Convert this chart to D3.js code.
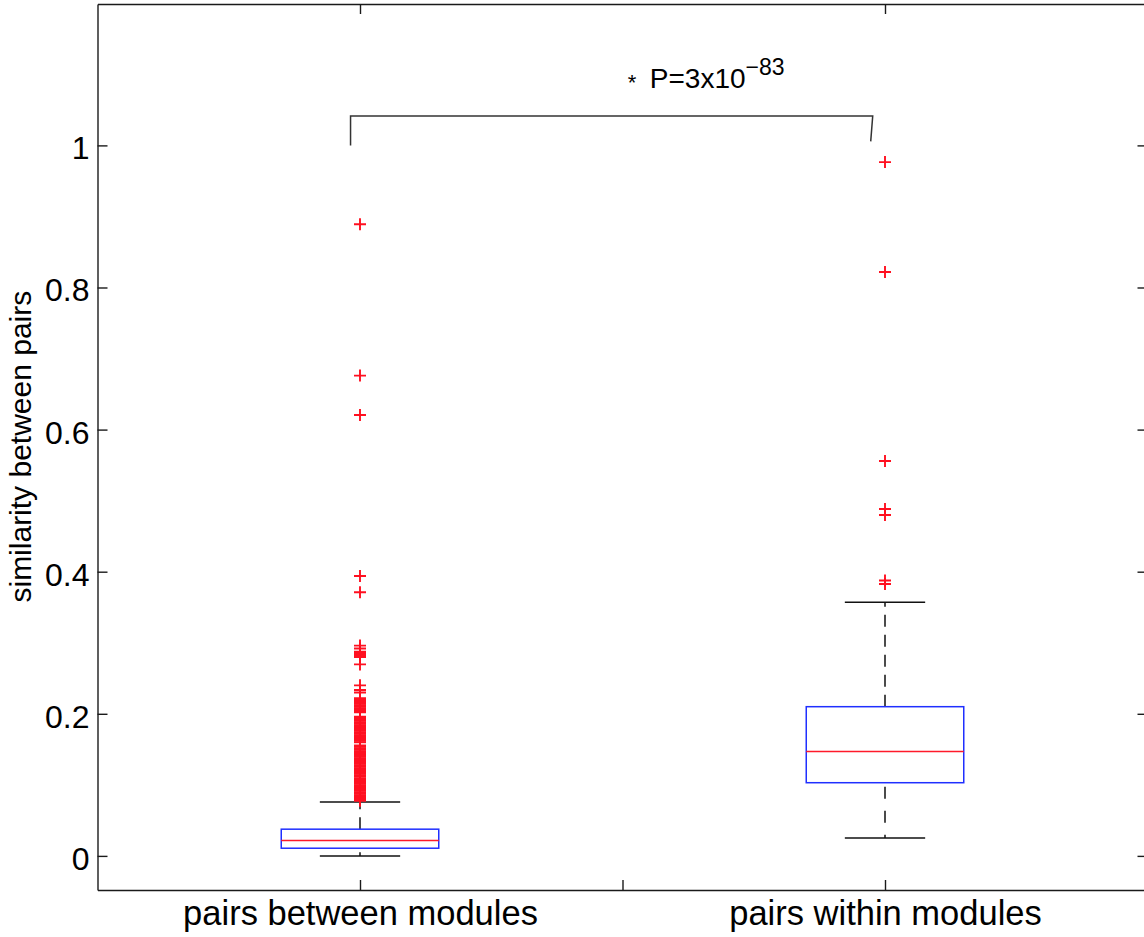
<!DOCTYPE html>
<html lang="en">
    <head>
        <meta charset="UTF-8">
        <title>Similarity Boxplot</title>
        <script src="https://d3js.org/d3.v7.min.js"></script>
        <style>
            body { margin: 0; background: #fff; }
            text { font-family: "Liberation Sans", Arial, Helvetica, sans-serif; fill: #000; }
        </style>
    </head>
    <body>
        <script>
            // data
            const categories = ['pairs between modules', 'pairs within modules'];
            const q1 = [0.0108, 0.103];
            const medians = [0.0215, 0.147];
            const q3 = [0.0376, 0.210];
            const whiskerLow = [0.0, 0.0253];
            const whiskerHigh = [0.076, 0.357];
            const outliersBetween = [
                0.889, 0.676, 0.6205, 0.394, 0.371, 0.296, 0.292, 0.2875, 0.286, 0.2845, 0.283, 0.2815, 0.280, 0.2695,
                0.240, 0.2335, 0.230,
                0.222, 0.220, 0.218, 0.216, 0.214, 0.212, 0.210, 0.208, 0.206, 0.204, 0.202,
                0.196, 0.194, 0.192, 0.190, 0.188, 0.186, 0.184, 0.182, 0.180, 0.178, 0.176, 0.174, 0.172, 0.170,
                0.168, 0.166, 0.164, 0.162, 0.160,
                0.1555, 0.1535, 0.1515, 0.1495, 0.1475, 0.1455, 0.1435, 0.1415, 0.1395, 0.1375, 0.1355, 0.1335,
                0.1315, 0.1295, 0.1275, 0.1255, 0.1235, 0.1215, 0.1195, 0.1175, 0.1155, 0.1135, 0.1115, 0.1095,
                0.1075, 0.1055, 0.1035, 0.1015, 0.0995, 0.0975, 0.0955, 0.0935, 0.0915, 0.0895, 0.0875, 0.0855,
                0.0835, 0.0815, 0.0795, 0.0775
            ];
            const outliersWithin = [0.9765, 0.8217, 0.5558, 0.4883, 0.4798, 0.3877, 0.3827];
            const outliers = [outliersBetween, outliersWithin];
            const yTicks = [0, 0.2, 0.4, 0.6, 0.8, 1];
            const bracket = [[0.982, 1.0], [0.982, 1.0412], [1.9766, 1.0412], [1.9728, 1.0057]];
            const pText = ['P=3x10', '\u221283'];

            const w = 1144;
            const h = 937;

            const svg = d3.select('body')
                          .append('svg')
                          .attr('width', w)
                          .attr('height', h)

            const xScale = d3.scaleLinear()
                             .domain([0.5, 2.5])
                             .range([97.5, 1147.5])
            const yScale = d3.scaleLinear()
                             .domain([-0.048, 1.199])
                             .range([890, 4])

            const axisColor = '#1a1a1a';

            // left / right y axes with inner ticks
            const yAxisL = d3.axisLeft(yScale)
                             .tickValues(yTicks)
                             .tickSizeInner(-10)
                             .tickSizeOuter(0)
                             .tickPadding(8)
                             .tickFormat(d => d === 0 ? '0' : d === 1 ? '1' : d3.format('.1f')(d))
            const gL = svg.append('g')
                          .attr('transform', 'translate(' + xScale(0.5) + ',0)')
                          .call(yAxisL)
            gL.selectAll('text')
              .style('font-size', '32px')
              .attr('dy', '0.42em')

            const yAxisR = d3.axisRight(yScale)
                             .tickValues(yTicks)
                             .tickSizeInner(-10)
                             .tickSizeOuter(0)
                             .tickFormat('')
            svg.append('g')
               .attr('transform', 'translate(' + xScale(2.5) + ',0)')
               .call(yAxisR)

            // bottom / top x axes
            const xAxisB = d3.axisBottom(xScale)
                             .tickValues([1, 1.5, 2])
                             .tickSizeInner(-10)
                             .tickSizeOuter(0)
                             .tickPadding(11)
                             .tickFormat(d => d === 1 ? categories[0] : d === 2 ? categories[1] : '')
            const gB = svg.append('g')
                          .attr('transform', 'translate(0,' + yScale(-0.048) + ')')
                          .call(xAxisB)
            gB.selectAll('text')
              .style('font-size', '34.5px')

            const xAxisT = d3.axisTop(xScale)
                             .tickValues([1, 2])
                             .tickSizeInner(-10)
                             .tickSizeOuter(0)
                             .tickFormat('')
            svg.append('g')
               .attr('transform', 'translate(0,' + yScale(1.199) + ')')
               .call(xAxisT)

            svg.selectAll('.domain, .tick line')
               .attr('stroke', axisColor)
               .attr('stroke-width', 1.4)

            // y label
            svg.append('text')
               .attr('transform', 'translate(31,' + yScale(0.576) + ') rotate(-90)')
               .attr('text-anchor', 'middle')
               .style('font-size', '30px')
               .text('similarity between pairs')

            // boxes
            const boxW = 0.3;
            const capW = 0.153;
            const idx = [0, 1];
            const boxes = svg.append('g')
                             .selectAll('g')
                             .data(idx)
                             .enter()
                             .append('g')

            // whiskers, dashed from box outwards
            boxes.append('line')
                 .attr('x1', i => xScale(i + 1))
                 .attr('x2', i => xScale(i + 1))
                 .attr('y1', i => yScale(q3[i]))
                 .attr('y2', i => yScale(whiskerHigh[i]))
                 .attr('stroke', '#111')
                 .attr('stroke-width', 1.5)
                 .attr('stroke-dasharray', '12,8')
            boxes.append('line')
                 .attr('x1', i => xScale(i + 1))
                 .attr('x2', i => xScale(i + 1))
                 .attr('y1', i => yScale(q1[i]))
                 .attr('y2', i => yScale(whiskerLow[i]))
                 .attr('stroke', '#111')
                 .attr('stroke-width', 1.5)
                 .attr('stroke-dasharray', '0,4,12,8')
            // caps
            boxes.append('line')
                 .attr('x1', i => xScale(i + 1 - capW / 2))
                 .attr('x2', i => xScale(i + 1 + capW / 2))
                 .attr('y1', i => yScale(whiskerHigh[i]))
                 .attr('y2', i => yScale(whiskerHigh[i]))
                 .attr('stroke', '#111')
                 .attr('stroke-width', 1.5)
            boxes.append('line')
                 .attr('x1', i => xScale(i + 1 - capW / 2))
                 .attr('x2', i => xScale(i + 1 + capW / 2))
                 .attr('y1', i => yScale(whiskerLow[i]))
                 .attr('y2', i => yScale(whiskerLow[i]))
                 .attr('stroke', '#111')
                 .attr('stroke-width', 1.5)
            // box
            boxes.append('rect')
                 .attr('x', i => xScale(i + 1 - boxW / 2))
                 .attr('width', i => xScale(i + 1 + boxW / 2) - xScale(i + 1 - boxW / 2))
                 .attr('y', i => yScale(q3[i]))
                 .attr('height', i => yScale(q1[i]) - yScale(q3[i]))
                 .attr('fill', 'none')
                 .attr('stroke', '#1f2fff')
                 .attr('stroke-width', 1.5)
            // median
            boxes.append('line')
                 .attr('x1', i => xScale(i + 1 - boxW / 2))
                 .attr('x2', i => xScale(i + 1 + boxW / 2))
                 .attr('y1', i => yScale(medians[i]))
                 .attr('y2', i => yScale(medians[i]))
                 .attr('stroke', '#ff1a2a')
                 .attr('stroke-width', 1.5)

            // outliers as + markers
            const pts = [];
            outliers.forEach((arr, i) => arr.forEach(v => pts.push({ x: i + 1, v: v })));
            const arm = 6;
            svg.append('g')
               .selectAll('path')
               .data(pts)
               .enter()
               .append('path')
               .attr('d', d => {
                   const cx = xScale(d.x);
                   const cy = yScale(d.v);
                   return 'M' + (cx - arm) + ',' + cy + 'H' + (cx + arm) +
                          'M' + cx + ',' + (cy - arm) + 'V' + (cy + arm);
               })
               .attr('stroke', '#ff1020')
               .attr('stroke-width', 1.9)
               .attr('fill', 'none')

            // significance bracket
            const line = d3.line()
                           .x(d => xScale(d[0]))
                           .y(d => yScale(d[1]))
            svg.append('path')
               .attr('d', line(bracket))
               .attr('fill', 'none')
               .attr('stroke', '#333')
               .attr('stroke-width', 1.5)

            svg.append('text')
               .attr('x', xScale(1.518))
               .attr('y', yScale(1.0806) + 2)
               .attr('text-anchor', 'middle')
               .style('font-size', '22px')
               .text('*')
            const pt = svg.append('text')
                          .attr('x', xScale(1.552))
                          .attr('y', yScale(1.0806))
                          .style('font-size', '28px')
            pt.append('tspan').text(pText[0])
            pt.append('tspan')
              .attr('dy', -13)
              .style('font-size', '23px')
              .text(pText[1])
        </script>
    </body>
</html>
